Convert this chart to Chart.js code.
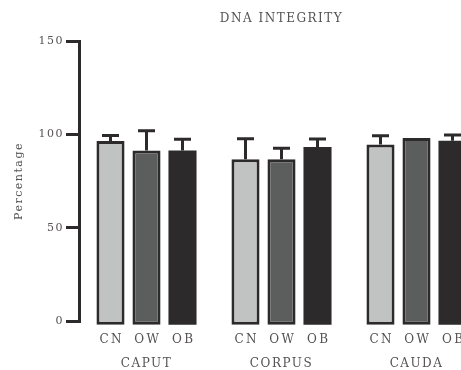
<!DOCTYPE html>
<html>
<head>
<meta charset="utf-8">
<script src="https://cdn.jsdelivr.net/npm/chart.js@4.4.1/dist/chart.umd.min.js"></script>
<style>
  html, body { margin: 0; padding: 0; background: #fff; overflow: hidden; }
  #wrap { width: 492px; height: 370px; }
</style>
</head>
<body>
<div id="wrap"><canvas id="c" width="492" height="370"></canvas></div>
<script>
const regions = ['CAPUT', 'CORPUS', 'CAUDA'];
const groupNames = ['CN', 'OW', 'OB'];
const cnValues = [96.4, 86.6, 94.6];
const owValues = [91.4, 86.6, 98.0];
const obValues = [91.4, 93.2, 96.6];
const cnErrors = [3.0, 11.0, 4.7];
const owErrors = [10.5, 6.0, 0];
const obErrors = [6.0, 4.3, 3.0];
const yTicks = [0, 50, 100, 150];

const dark = '#2d2a2b';
const textColor = '#555253';
const fontFamily = '"DejaVu Serif"';

const spacingPlugin = {
  id: 'spacing',
  beforeLayout(chart) { chart.ctx.letterSpacing = '1.5px'; },
  beforeDraw(chart) { chart.ctx.letterSpacing = '1.5px'; }
};

const errorBarPlugin = {
  id: 'errorBars',
  afterDatasetsDraw(chart) {
    const ctx = chart.ctx;
    const y = chart.scales.y;
    ctx.save();
    chart.data.datasets.forEach((ds, di) => {
      const meta = chart.getDatasetMeta(di);
      meta.data.forEach((bar, i) => {
        const err = ds.errors[i];
        const topPx = y.getPixelForValue(ds.data[i]);
        if (err > 0) {
          const errPx = y.getPixelForValue(ds.data[i] + err);
          ctx.strokeStyle = dark;
          ctx.lineWidth = 3;
          ctx.beginPath();
          ctx.moveTo(bar.x, topPx);
          ctx.lineTo(bar.x, errPx);
          ctx.moveTo(bar.x - 8.5, errPx);
          ctx.lineTo(bar.x + 8.5, errPx);
          ctx.stroke();
        }
        ctx.fillStyle = textColor;
        ctx.letterSpacing = '2.5px';
        ctx.font = '12px ' + fontFamily;
        ctx.textAlign = 'center';
        ctx.textBaseline = 'middle';
        ctx.fillText(groupNames[di], bar.x + 1.25, chart.chartArea.bottom + 19);
      });
    });
    ctx.restore();
  }
};

function makeDataset(label, values, errors, fill, bw) {
  return {
    label: label,
    data: values,
    errors: errors,
    backgroundColor: fill,
    borderColor: dark,
    borderWidth: bw,
    borderSkipped: false,
    base: -2,
    clip: false
  };
}

new Chart(document.getElementById('c'), {
  type: 'bar',
  data: {
    labels: regions,
    datasets: [
      makeDataset(groupNames[0], cnValues, cnErrors, '#c1c3c2', 3),
      makeDataset(groupNames[1], owValues, owErrors, '#5c5e5d', 3),
      makeDataset(groupNames[2], obValues, obErrors, dark, 0)
    ]
  },
  options: {
    responsive: false,
    animation: false,
    categoryPercentage: 0.8,
    barPercentage: 0.78,
    layout: { padding: { left: 0, right: 8, top: 0, bottom: 0 } },
    plugins: {
      legend: { display: false },
      tooltip: { enabled: false },
      title: {
        display: true,
        text: 'DNA INTEGRITY',
        fullSize: false,
        color: textColor,
        font: { family: fontFamily, size: 12, weight: 'normal' },
        padding: { top: 12, bottom: 14.6 }
      }
    },
    scales: {
      x: {
        grid: { display: false, drawTicks: false },
        border: { display: false },
        ticks: {
          color: textColor,
          font: { family: fontFamily, size: 12 },
          padding: 36
        },
        afterFit(scale) { scale.height = 49; }
      },
      y: {
        min: 0,
        max: 150,
        afterBuildTicks(scale) { scale.ticks = yTicks.map(v => ({ value: v })); },
        grid: {
          drawOnChartArea: false,
          drawTicks: true,
          tickLength: 13,
          lineWidth: 3,
          color: dark
        },
        border: { display: true, width: 3, color: dark },
        ticks: {
          color: textColor,
          font: { family: fontFamily, size: 11 },
          padding: 2
        },
        title: {
          display: true,
          text: 'Percentage',
          color: textColor,
          font: { family: fontFamily, size: 11 },
          padding: { top: 13, bottom: 3 }
        },
        afterFit(scale) { scale.width = 79; }
      }
    }
  },
  plugins: [spacingPlugin, errorBarPlugin]
});
</script>
</body>
</html>
